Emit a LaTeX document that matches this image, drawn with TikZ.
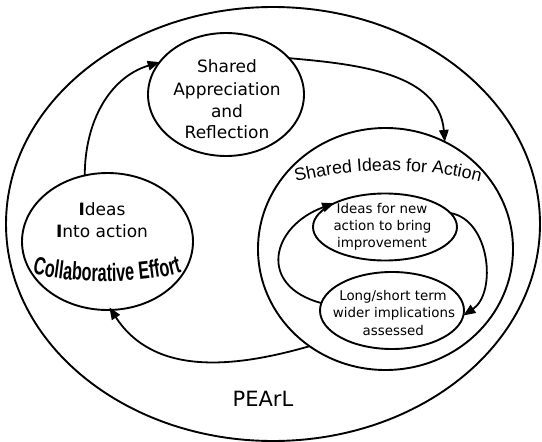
\documentclass[tikz,border=0pt]{standalone}
\usepackage{fontspec}
\usetikzlibrary{shapes.geometric,arrows.meta,decorations.text}
\newfontfamily\dvsfont{DejaVu Sans}
\newfontfamily\arlfont{Liberation Sans}
\newfontfamily\arlcfont[FakeStretch=0.65]{Liberation Sans Bold}
\newcommand\bigtxt{\dvsfont\fontsize{17}{20}\selectfont}
\newcommand\smalltxt{\dvsfont\fontsize{13.4}{16}\selectfont}
\newcommand\siafont{\arlfont\fontsize{17.8}{21}\selectfont}
\newcommand\collfont{\arlcfont\fontsize{25}{28}\selectfont}
\begin{document}
\begin{tikzpicture}[x=1pt,y=1pt,
  ell/.style={ellipse,draw,line width=1.9pt,inner sep=0pt,outer sep=0pt},
  big/.style={font=\bigtxt,anchor=base,inner sep=0pt},
  small/.style={font=\smalltxt,anchor=base,inner sep=0pt},
  flow/.style={line width=1.8pt,-{Triangle[length=12pt,width=9.5pt]}}]
\useasboundingbox (0,0) rectangle (542,-442);

% ellipses
\node[ell,minimum width=534pt,minimum height=434pt] (pearl) at (273,-224) {};
\node[ell,minimum width=156pt,minimum height=123pt] (sa) at (226,-94.5) {};
\node[ell,minimum width=171pt,minimum height=137pt] (ia) at (107.5,-241.5) {};
\node[ell,minimum width=255pt,minimum height=242pt] (sia) at (385.5,-249) {};
\node[ell,minimum width=144pt,minimum height=67pt] (ifn) at (385,-227) {};
\node[ell,minimum width=144pt,minimum height=77pt] (ls) at (392,-310.5) {};

% texts
\node[big] (sa1) at (227,-72.7) {Shared};
\node[big] (sa2) at (227,-95) {Appreciation};
\node[big] (sa3) at (227,-117) {and};
\node[big] (sa4) at (227,-138.7) {Reflection};
\node[big] (ia1) at (102,-215) {{\bfseries I}deas};
\node[big] (ia2) at (102,-237) {{\bfseries I}nto action};
\node[small] (ifn1) at (382,-213) {Ideas for new};
\node[small] (ifn2) at (382.5,-230.5) {action to bring};
\node[small] (ifn3) at (382,-247.5) {improvement};
\node[small] (ls1) at (393,-300) {Long/short term};
\node[small] (ls2) at (394,-317.5) {wider implications};
\node[small] (ls3) at (393.3,-335) {assessed};
\node[font=\dvsfont\fontsize{21}{24}\selectfont,anchor=base,inner sep=0pt] (pearltxt) at (263,-406) {PEArL};

\path[decorate,decoration={text along path,text={|\siafont|Shared Ideas for Action},text align=center}]
  (285,-185) .. controls (348,-166) and (430,-166) .. (491,-185);
\path[decorate,decoration={text along path,text={|\collfont|Collaborative Effort},text align=center}]
  (22,-271) .. controls (66,-285) and (152,-285) .. (192,-269);

% connectors
\draw[flow] (ia.109) to[out=90,in=197] (sa.154);
\draw[flow] (sa.30) to[out=-5,in=95] (sia.61);
\draw[flow,shorten >=-3pt] (sia.232) to[out=196,in=-57] (ia.273);
\draw[flow] (ls.174) to[out=165,in=200,looseness=1.7] (ifn.155);
\draw[flow] (ifn.12) to[out=-10,in=34] (ls.-4);
\end{tikzpicture}
\end{document}
